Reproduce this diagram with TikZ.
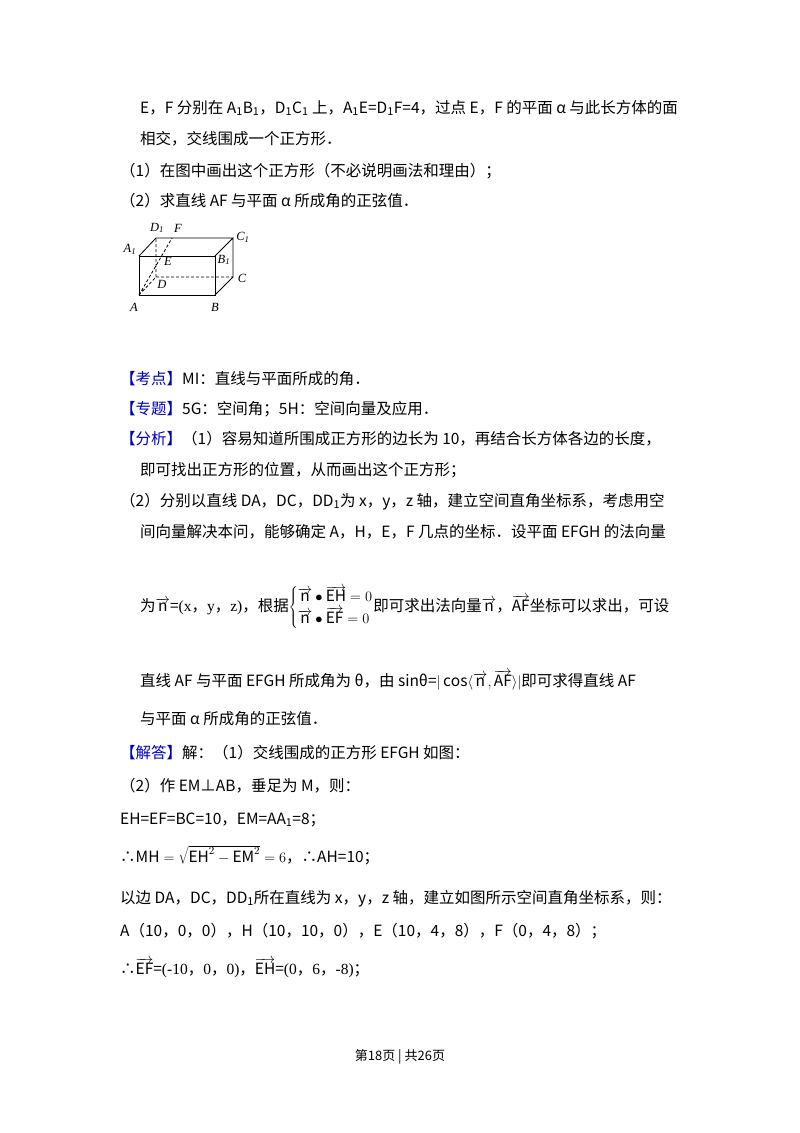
\documentclass[tikz,border=0pt]{standalone}
\usepackage{fontspec}
\setmainfont{Noto Sans CJK SC}
\newfontfamily\lat{Liberation Serif}
\begin{document}
\begin{tikzpicture}[x=1pt,y=-1pt,
  tl/.style={anchor=base west,inner sep=0pt,font=\fontsize{15.5}{18}\selectfont},
  lb/.style={inner sep=0pt,font=\lat\itshape\fontsize{12.5}{13}\selectfont},
  ed/.style={line width=0.8pt},
  hd/.style={ed,dashed,dash pattern=on 3pt off 2pt}]
\useasboundingbox[fill=white] (0,0) rectangle (800,1133);
\node[tl] (l1) at (140,113) {E，F 分别在 A\textsubscript{1}B\textsubscript{1}，D\textsubscript{1}C\textsubscript{1} 上，A\textsubscript{1}E=D\textsubscript{1}F=4，过点 E，F 的平面 α 与此长方体的面};
\node[tl] (l2) at (140,144) {相交，交线围成一个正方形．};
\node[tl] (l3) at (120,176) {（1）在图中画出这个正方形（不必说明画法和理由）；};
\node[tl] (l4) at (120,206) {（2）求直线 AF 与平面 α 所成角的正弦值．};
% figure
\coordinate (A) at (139,295); \coordinate (B) at (215,295);
\coordinate (B1) at (215,256); \coordinate (A1) at (139,256);
\coordinate (D) at (156,277); \coordinate (C) at (233,277);
\coordinate (C1) at (233,238); \coordinate (D1) at (156,238);
\coordinate (F) at (172,238);
\draw[ed] (A)--(B)--(B1)--(A1)--cycle;
\draw[ed] (A1)--(D1)--(C1)--(B1) (C1)--(C)--(B);
\draw[hd] (A)--(D)--(C) (D)--(D1) (A)--(F);
\node[lb] (lA) at (134,307) {A};
\node[lb] (lB) at (215,307) {B};
\node[lb] (lC) at (242,278) {C};
\node[lb] (lD) at (162,284) {D};
\node[lb] (lE) at (168,261) {E};
\node[lb] (lF) at (178,228) {F};
\node[lb] (lA1) at (130,249) {A\textsubscript{1}};
\node[lb] (lB1) at (224,260) {B\textsubscript{1}};
\node[lb] (lC1) at (243,237) {C\textsubscript{1}};
\node[lb] (lD1) at (157,228) {D\textsubscript{1}};
% analysis
\node[tl] (k1) at (120,384) {\textcolor{blue!75!black}{【考点】}MI：直线与平面所成的角．};
\node[tl] (k2) at (120,414) {\textcolor{blue!75!black}{【专题】}5G：空间角；5H：空间向量及应用．};
\node[tl] (k3) at (120,444) {\textcolor{blue!75!black}{【分析】}（1）容易知道所围成正方形的边长为 10，再结合长方体各边的长度，};
\node[tl] (k4) at (140,475) {即可找出正方形的位置，从而画出这个正方形；};
\node[tl] (k5) at (120,506) {（2）分别以直线 DA，DC，DD\textsubscript{1}为 x，y，z 轴，建立空间直角坐标系，考虑用空};
\node[tl] (k6) at (140,537) {间向量解决本问，能够确定 A，H，E，F 几点的坐标．设平面 EFGH 的法向量};
\node[tl] (k7) at (140,611) {为$\overrightarrow{\mathrm{n}}$={\lat (x}，{\lat y}，{\lat z)}，根据$\left\{\renewcommand{\arraystretch}{1.1}\begin{array}{@{}l@{}}\overrightarrow{\mathrm{n}}\bullet\overrightarrow{\mathrm{EH}}=0\\\overrightarrow{\mathrm{n}}\bullet\overrightarrow{\mathrm{EF}}=0\end{array}\right.$即可求出法向量$\overrightarrow{\mathrm{n}}$，$\overrightarrow{\mathrm{AF}}$坐标可以求出，可设};
\node[tl] (k8) at (140,686) {直线 AF 与平面 EFGH 所成角为 θ，由 sinθ=$|\cos\langle\overrightarrow{\mathrm{n}},\overrightarrow{\mathrm{AF}}\rangle|$即可求得直线 AF};
\node[tl] (k9) at (140,724) {与平面 α 所成角的正弦值．};
\node[tl] (j1) at (120,758) {\textcolor{blue!75!black}{【解答】}解：（1）交线围成的正方形 EFGH 如图：};
\node[tl] (j2) at (120,791) {（2）作 EM⊥AB，垂足为 M，则：};
\node[tl] (j3) at (120,824) {EH=EF=BC=10，EM=AA\textsubscript{1}=8；};
\node[tl] (j4) at (120,862) {∴$\mathrm{MH}=\sqrt{\mathrm{EH}^2-\mathrm{EM}^2}=6$，∴AH=10；};
\node[tl] (j5) at (120,903) {以边 DA，DC，DD\textsubscript{1}所在直线为 x，y，z 轴，建立如图所示空间直角坐标系，则：};
\node[tl] (j6) at (120,936) {A（10，0，0），H（10，10，0），E（10，4，8），F（0，4，8）；};
\node[tl] (j7) at (120,974) {∴$\overrightarrow{\mathrm{EF}}$={\lat (-10}，{\lat 0}，{\lat 0)}，$\overrightarrow{\mathrm{EH}}$={\lat (0}，{\lat 6}，{\lat -8)}；};
\node[inner sep=0pt,font=\fontsize{13}{15}\selectfont] (pg) at (400,1057) {第18页 | 共26页};
\end{tikzpicture}
\end{document}
